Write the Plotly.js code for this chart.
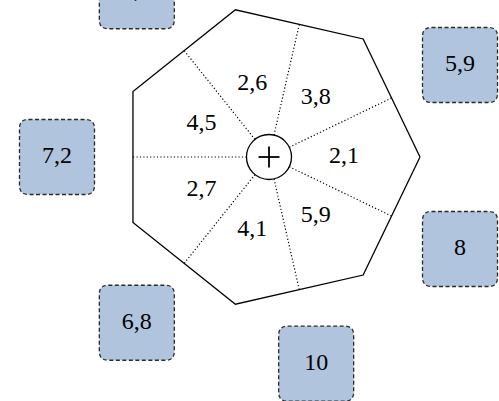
<!DOCTYPE html>
<html>
<head>
<meta charset="utf-8">
<script src="https://cdn.plot.ly/plotly-3.0.1.min.js"></script>
<style>html,body{margin:0;padding:0;background:#fff;}#chart{width:499px;height:401px;}</style>
</head>
<body>
<div id="chart"></div>
<script>
// Inner sector values, counter-clockwise starting at the right-pointing vertex
const sectorValues = [2.1, 3.8, 2.6, 4.5, 2.7, 4.1, 5.9];
// Outer box values, counter-clockwise starting at the upper-right edge
const outerValues = [5.9, 4.3, 3.4, 7.2, 6.8, 10, 8];

const fmt = v => String(v).replace('.', ',');

// Geometry (pixel space)
const cx = 269, cy = 157;
const R = 151;            // heptagon circumradius
const n = sectorValues.length;
const apothem = R * Math.cos(Math.PI / n);
const hubR = 22.5;
const labelR = 75;
const boxR = 212;
const boxHalf = 37.5;
const corner = 9;

const pt = (r, a) => [cx + r * Math.cos(a), cy - r * Math.sin(a)];

// Heptagon outline
const hx = [], hy = [];
for (let k = 0; k <= n; k++) {
  const p = pt(R, k * 2 * Math.PI / n);
  hx.push(p[0]); hy.push(p[1]);
}

const shapes = [];
// dotted dividers
for (let k = 0; k < n; k++) {
  const a = (k + 0.5) * 2 * Math.PI / n;
  const p0 = pt(hubR, a), p1 = pt(apothem, a);
  shapes.push({type: 'line', layer: 'below', xref: 'x', yref: 'y', x0: p0[0], y0: p0[1], x1: p1[0], y1: p1[1],
    line: {color: '#000', width: 1.2, dash: '1.2px,2.2px'}});
}
// hub circle
shapes.push({type: 'circle', layer: 'below', xref: 'x', yref: 'y', x0: cx - hubR, x1: cx + hubR, y0: cy - hubR, y1: cy + hubR,
  fillcolor: '#fff', line: {color: '#000', width: 1.3}});
// plus sign
shapes.push({type: 'line', layer: 'above', xref: 'x', yref: 'y', x0: cx - 10.5, x1: cx + 10.5, y0: cy, y1: cy, line: {color: '#000', width: 1.8}});
shapes.push({type: 'line', layer: 'above', xref: 'x', yref: 'y', x0: cx, x1: cx, y0: cy - 10.5, y1: cy + 10.5, line: {color: '#000', width: 1.8}});

// rounded boxes
const boxX = [], boxY = [];
for (let k = 0; k < outerValues.length; k++) {
  const a = (k + 0.5) * 2 * Math.PI / n;
  const p = pt(boxR, a);
  boxX.push(p[0]); boxY.push(p[1]);
  const x0 = p[0] - boxHalf, x1 = p[0] + boxHalf, y0 = p[1] - boxHalf, y1 = p[1] + boxHalf, c = corner;
  const path = `M ${x0 + c},${y0} L ${x1 - c},${y0} Q ${x1},${y0} ${x1},${y0 + c} L ${x1},${y1 - c} Q ${x1},${y1} ${x1 - c},${y1} ` +
    `L ${x0 + c},${y1} Q ${x0},${y1} ${x0},${y1 - c} L ${x0},${y0 + c} Q ${x0},${y0} ${x0 + c},${y0} Z`;
  shapes.push({type: 'path', layer: 'below', xref: 'x', yref: 'y', path: path,
    fillcolor: '#b0c4de', line: {color: '#2a2a2a', width: 1.3, dash: '4px,2.5px'}});
}

// sector label positions
const lx = [], ly = [];
for (let k = 0; k < n; k++) {
  const p = pt(labelR, k * 2 * Math.PI / n);
  lx.push(p[0]); ly.push(p[1]);
}

const font = {family: 'Liberation Serif, DejaVu Serif, serif', size: 24, color: '#000'};

const traces = [
  {type: 'scatter', mode: 'lines', x: hx, y: hy, line: {color: '#000', width: 1.3}, hoverinfo: 'skip'},
  {type: 'scatter', mode: 'text', x: lx, y: ly, text: sectorValues.map(fmt), textposition: 'middle center', textfont: font, hoverinfo: 'skip'},
  {type: 'scatter', mode: 'text', x: boxX, y: boxY, text: outerValues.map(fmt), textposition: 'middle center', textfont: font, hoverinfo: 'skip', cliponaxis: true}
];

const layout = {
  width: 499, height: 401,
  margin: {l: 0, r: 0, t: 0, b: 0},
  paper_bgcolor: '#fff', plot_bgcolor: '#fff',
  showlegend: false,
  xaxis: {range: [0, 499], visible: false, fixedrange: true},
  yaxis: {range: [401, 0], visible: false, fixedrange: true},
  shapes: shapes
};

Plotly.newPlot('chart', traces, layout, {displayModeBar: false, staticPlot: true});
</script>
</body>
</html>
